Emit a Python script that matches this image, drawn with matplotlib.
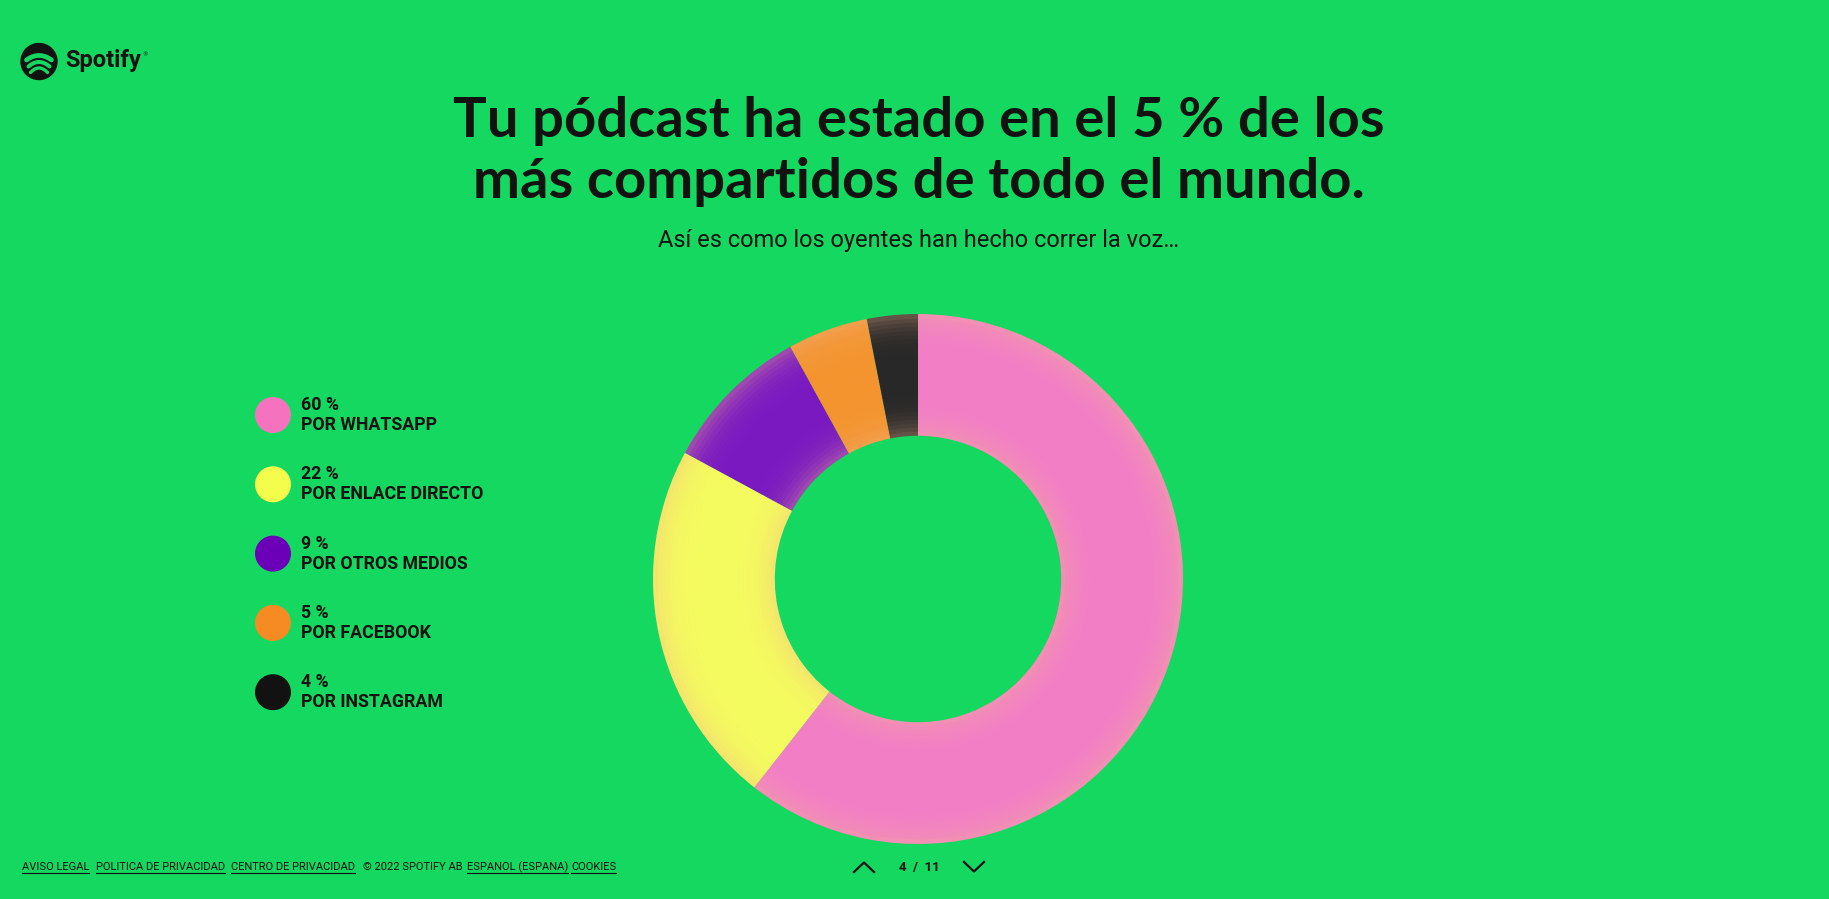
import numpy as np
import matplotlib
matplotlib.use("Agg")
import matplotlib.pyplot as plt
from matplotlib.patches import Circle
from matplotlib.colors import to_rgb

# **Data**
legend_pct = [60, 22, 9, 5, 4]                 # numbers printed in the legend
slice_pct = [60.6, 22.3, 9.1, 4.9, 3.1]         # slice sizes as drawn in the ring
channels = ["POR WHATSAPP", "POR ENLACE DIRECTO", "POR OTROS MEDIOS", "POR FACEBOOK", "POR INSTAGRAM"]
legend_colors = ["#f573be", "#f4fc4c", "#6c00b8", "#f58b22", "#121212"]
ring_colors = ["#f27ec6", "#f4fb5e", "#7a19c0", "#f3942f", "#282828"]

title_lines = ["Tu pódcast ha estado en el 5 % de los", "más compartidos de todo el mundo."]
subtitle = "Así es como los oyentes han hecho correr la voz…"
footer_links = ["AVISO LEGAL", "POLITICA DE PRIVACIDAD", "CENTRO DE PRIVACIDAD",
                "© 2022 SPOTIFY AB", "ESPANOL (ESPANA)", "COOKIES"]
footer_x = [22, 96, 231, 363, 467, 571]
page_label = "4  /  11"

BG = "#14d860"
INK = "#121212"
W, H = 1829, 899

fig = plt.figure(figsize=(W / 100, H / 100), dpi=100, facecolor=BG)

# background axes in pixel coords (origin top-left)
ax = fig.add_axes([0, 0, 1, 1])
ax.set_xlim(0, W)
ax.set_ylim(H, 0)
ax.axis("off")
fig.canvas.draw()
renderer = fig.canvas.get_renderer()

# logo
ax.add_patch(Circle((39, 61.5), 18, color=INK))
for y_top, half, lw in [(55.5, 12.5, 3.4), (62, 10.5, 2.9), (68, 8.5, 2.4)]:
    xs = np.linspace(-half, half, 40)
    ys = y_top + 4.5 * (xs / half) ** 2
    ax.plot(39 + xs, ys, color=BG, lw=lw, solid_capstyle="round")
logo = ax.text(65, 67.5, "Spotify", fontsize=17, fontweight="bold", color=INK,
               family=["Roboto", "DejaVu Sans"], va="baseline", ha="left")
lw_px = logo.get_window_extent(renderer=renderer).width
ax.text(65 + lw_px + 1.5, 56, "®", fontsize=4, color=INK, va="baseline")

# title + subtitle
ax.text(919, 137, title_lines[0], fontsize=40.5, fontweight="bold", color=INK,
        family=["Lato", "DejaVu Sans"], ha="center", va="baseline")
ax.text(919, 198, title_lines[1], fontsize=40.5, fontweight="bold", color=INK,
        family=["Lato", "DejaVu Sans"], ha="center", va="baseline")
ax.text(919, 247, subtitle, fontsize=17, color=INK,
        family=["Roboto", "DejaVu Sans"], ha="center", va="baseline")

# legend
for i, (val, lab, col) in enumerate(zip(legend_pct, channels, legend_colors)):
    cy = 415 + i * 69.3
    ax.add_patch(Circle((273, cy), 17.3, color=col))
    ax.text(301, cy - 5, f"{val} %", fontsize=12.8, fontweight="bold", color=INK,
            family=["Roboto", "DejaVu Sans"], va="baseline")
    ax.text(301, cy + 15, lab, fontsize=12.8, fontweight="bold", color=INK,
            family=["Roboto", "DejaVu Sans"], va="baseline")

# footer
for txt, x in zip(footer_links, footer_x):
    t = ax.text(x, 870, txt, fontsize=8, color=INK,
                family=["Liberation Sans Narrow", "Roboto"], va="baseline")
    if "©" not in txt:
        bb = t.get_window_extent(renderer=renderer)
        ax.plot([x, x + bb.width], [873, 873], color=INK, lw=0.8)

# pager
ax.plot([854, 864, 874], [872, 862.5, 872], color=INK, lw=1.6)
ax.plot([964, 974, 984], [862, 871.5, 862], color=INK, lw=1.6)
ax.text(919, 871, page_label, fontsize=9.5, fontweight="bold", color=INK,
        family=["Roboto", "DejaVu Sans"], ha="center", va="baseline")

# donut, drawn as thin concentric bands for a soft tube-like shading
R_OUT, R_IN = 265, 144
cx, cy = 918, 579
pax = fig.add_axes([(cx - 300) / W, (H - cy - 300) / H, 600 / W, 600 / H])
pax.set_facecolor("none")

n_bands = 30
dr = (R_OUT - R_IN) / n_bands
edge_tint = np.array(to_rgb("#f4b48c"))
for k in range(n_bands):
    t = (k + 0.5) / n_bands
    f = abs(t - 0.5) * 2
    mix = 0.35 * f ** 4
    cols = [tuple(np.array(to_rgb(c)) * (1 - mix) + edge_tint * mix) for c in ring_colors]
    r = R_IN + (k + 1) * dr
    pax.pie(slice_pct, colors=cols, startangle=90, counterclock=False,
            radius=r, wedgeprops=dict(width=dr + 0.8, linewidth=0, antialiased=True))

pax.set_xlim(-300, 300)
pax.set_ylim(-300, 300)
pax.set_aspect("equal")
pax.axis("off")

fig.savefig("out.png", dpi=100, facecolor=BG)
